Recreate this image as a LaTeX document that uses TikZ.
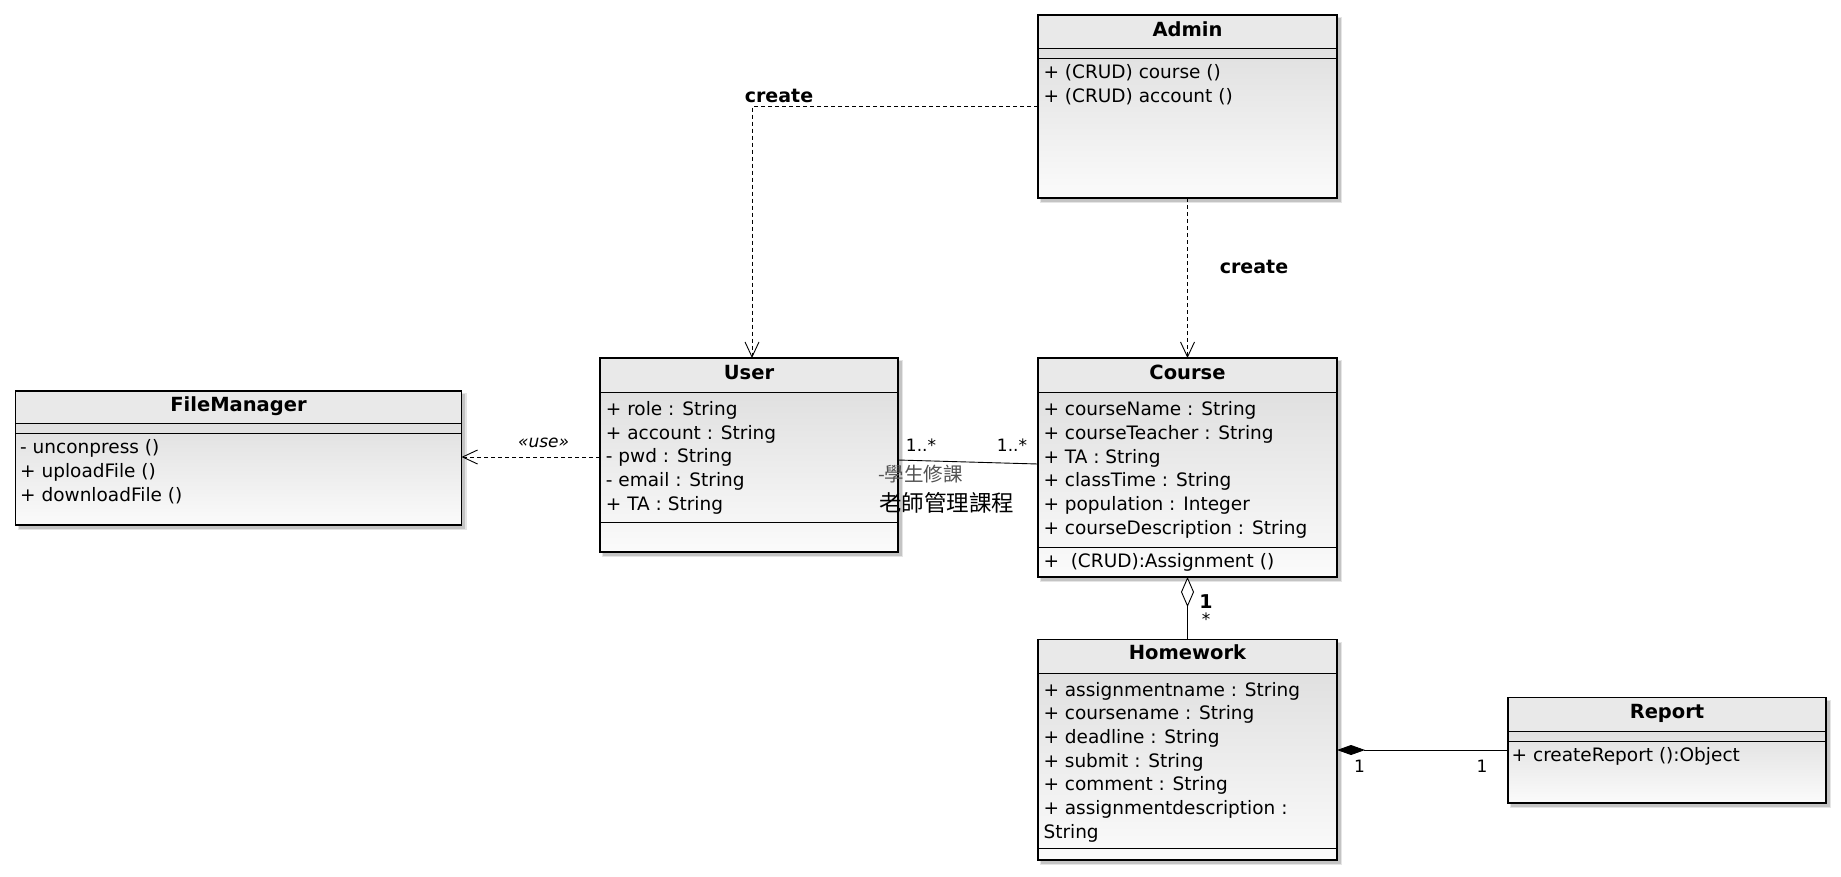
\documentclass[tikz,border=0pt]{standalone}
\usepackage{fontspec}
\setmainfont{DejaVu Sans}
\newfontfamily\cjk{Noto Sans CJK TC}
\usetikzlibrary{arrows.meta}
\definecolor{titlefill}{RGB}{233,233,233}
\definecolor{bodytop}{RGB}{224,224,224}
\definecolor{bodybot}{RGB}{251,251,251}
\tikzset{
  attr/.style={anchor=base west, inner sep=0pt, font=\fontsize{18.5}{22}\selectfont},
  ttl/.style={anchor=base, inner sep=0pt, font=\fontsize{19.5}{22}\selectfont\bfseries},
  border/.style={draw=black, line width=1.3pt, inner sep=0pt, outer sep=0pt, anchor=north west},
  sepline/.style={line width=1pt},
  dep/.style={draw, line width=0.9pt, dash pattern=on 4pt off 3pt, -{Straight Barb[length=15pt,width=14pt,line width=0.9pt]}},
  assoc/.style={draw, line width=0.9pt},
  boldlbl/.style={inner sep=0pt, font=\fontsize{19}{22}\selectfont\bfseries},
  multlbl/.style={inner sep=0pt, font=\fontsize{17}{19}\selectfont},
  uselbl/.style={inner sep=0pt, font=\fontsize{17}{19}\selectfont\itshape},
}
\newcommand\classbox[6]{%
  \fill[black, opacity=0.10] (#2+2,#3+2) rectangle (#4+5,#5+5);
  \fill[black, opacity=0.14] (#2+3,#3+3) rectangle (#4+3.5,#5+3.5);
  \shade[top color=bodytop, bottom color=bodybot] (#2,#6) rectangle (#4,#5);
  \fill[titlefill] (#2,#3) rectangle (#4,#6);
  \node[border, minimum width={(#4)-(#2)}, minimum height={(#5)-(#3)}] (#1) at (#2,#3) {};
  \draw[sepline] (#2,#6) -- (#4,#6);
}
\newcommand\rowlist[5]{% prefix, x, first baseline, step, list
  \foreach \t [count=\i from 0] in {#5} {\node[attr] (#1-\i) at (#2, #3+#4*\i) {\t};}
}
\begin{document}
\begin{tikzpicture}[x=1pt,y=-1pt]
\fill[white] (0,0) rectangle (1841,876);
\useasboundingbox (0,0) rectangle (1841,876);

% Admin
\classbox{admin}{1038}{15}{1337}{198}{48}
\draw[sepline] (1038,58) -- (1337,58);
\node[ttl] (admin-t) at (1187.5,36) {Admin};
\rowlist{adm}{1043.3}{78.7}{24}{{+ (CRUD) course ()},{+ (CRUD) account ()}}

% Course
\classbox{course}{1038}{358}{1337}{577}{392}
\draw[sepline] (1038,547) -- (1337,547);
\node[ttl] (course-t) at (1187.5,379) {Course};
\rowlist{crs}{1043.3}{415.7}{23.7}{{+ courseName : String},{+ courseTeacher : String},{+ TA : String},{+ classTime : String},{+ population : Integer},{+ courseDescription : String}}
\node[attr] (crs-op) at (1043.3,567.7) {+\ \ (CRUD):Assignment ()};

% User
\classbox{user}{600}{358}{898}{552}{392}
\draw[sepline] (600,522) -- (898,522);
\node[ttl] (user-t) at (749,379) {User};
\rowlist{usr}{605.7}{415.3}{23.75}{{+ role : String},{+ account : String},{- pwd : String},{- email : String},{+ TA : String}}

% FileManager
\classbox{fm}{15.5}{391}{461.5}{525}{423.5}
\draw[sepline] (15.5,433.5) -- (461.5,433.5);
\node[ttl] (fm-t) at (238.5,411) {FileManager};
\rowlist{fmr}{20}{453.7}{24.1}{{- unconpress ()},{+ uploadFile ()},{+ downloadFile ()}}

% Homework
\classbox{hw}{1038}{639.5}{1337}{860}{673}
\draw[sepline] (1038,848.5) -- (1337,848.5);
\node[ttl] (hw-t) at (1187.5,659.7) {Homework};
\rowlist{hwr}{1043.3}{696.3}{23.67}{{+ assignmentname : String},{+ coursename : String},{+ deadline : String},{+ submit : String},{+ comment : String},{+ assignmentdescription :},{String}}

% Report
\classbox{report}{1508}{697.5}{1826}{803}{731}
\draw[sepline] (1508,741) -- (1826,741);
\node[ttl] (report-t) at (1667,718.7) {Report};
\node[attr] (rep-0) at (1511.5,761) {+ createReport ():Object};

% Admin -> User (create)
\coordinate (bend) at (752,106.6);
\draw[dep] (admin.west |- bend) -- (bend) -- (user.north -| bend);
\node[boldlbl] (create1) at (779,96) {create};

% Admin -> Course (create)
\draw[dep] (admin.south) -- (course.north);
\node[boldlbl] (create2) at (1254,266.5) {create};

% User -> FileManager (use)
\coordinate (usey) at (0,457);
\draw[dep] (user.west |- usey) -- (fm.east |- usey);
\node[uselbl] (use) at (543.6,443) {«use»};

% User -- Course association
\coordinate (a1) at (0,460);
\coordinate (a2) at (0,464);
\draw[assoc] (user.east |- a1) -- (course.west |- a2);
\node[multlbl] (m1) at (921,445) {1..*};
\node[multlbl] (m2) at (1012,445) {1..*};
\node[inner sep=0pt, anchor=west, text=black!68, font=\cjk\fontsize{19.5}{21}\selectfont] (r1) at (878,474.5) {-學生修課};
\node[inner sep=0pt, anchor=west, font=\cjk\fontsize{22.5}{24}\selectfont] (r2) at (879,503) {老師管理課程};

% Course <>-- Homework
\draw[assoc, {Diamond[open, fill=white, length=30pt, width=13pt, line width=0.9pt]}-] (course.south) -- (hw.north);
\node[boldlbl] (ag1) at (1206,601.5) {1};
\node[multlbl] (ag2) at (1206,619) {*};

% Homework <*>-- Report
\coordinate (cy) at (0,750);
\draw[assoc, {Diamond[length=28pt, width=10pt]}-] (hw.east |- cy) -- (report.west |- cy);
\node[multlbl] (c1) at (1359.5,766) {1};
\node[multlbl] (c2) at (1482,766) {1};
\end{tikzpicture}
\end{document}
